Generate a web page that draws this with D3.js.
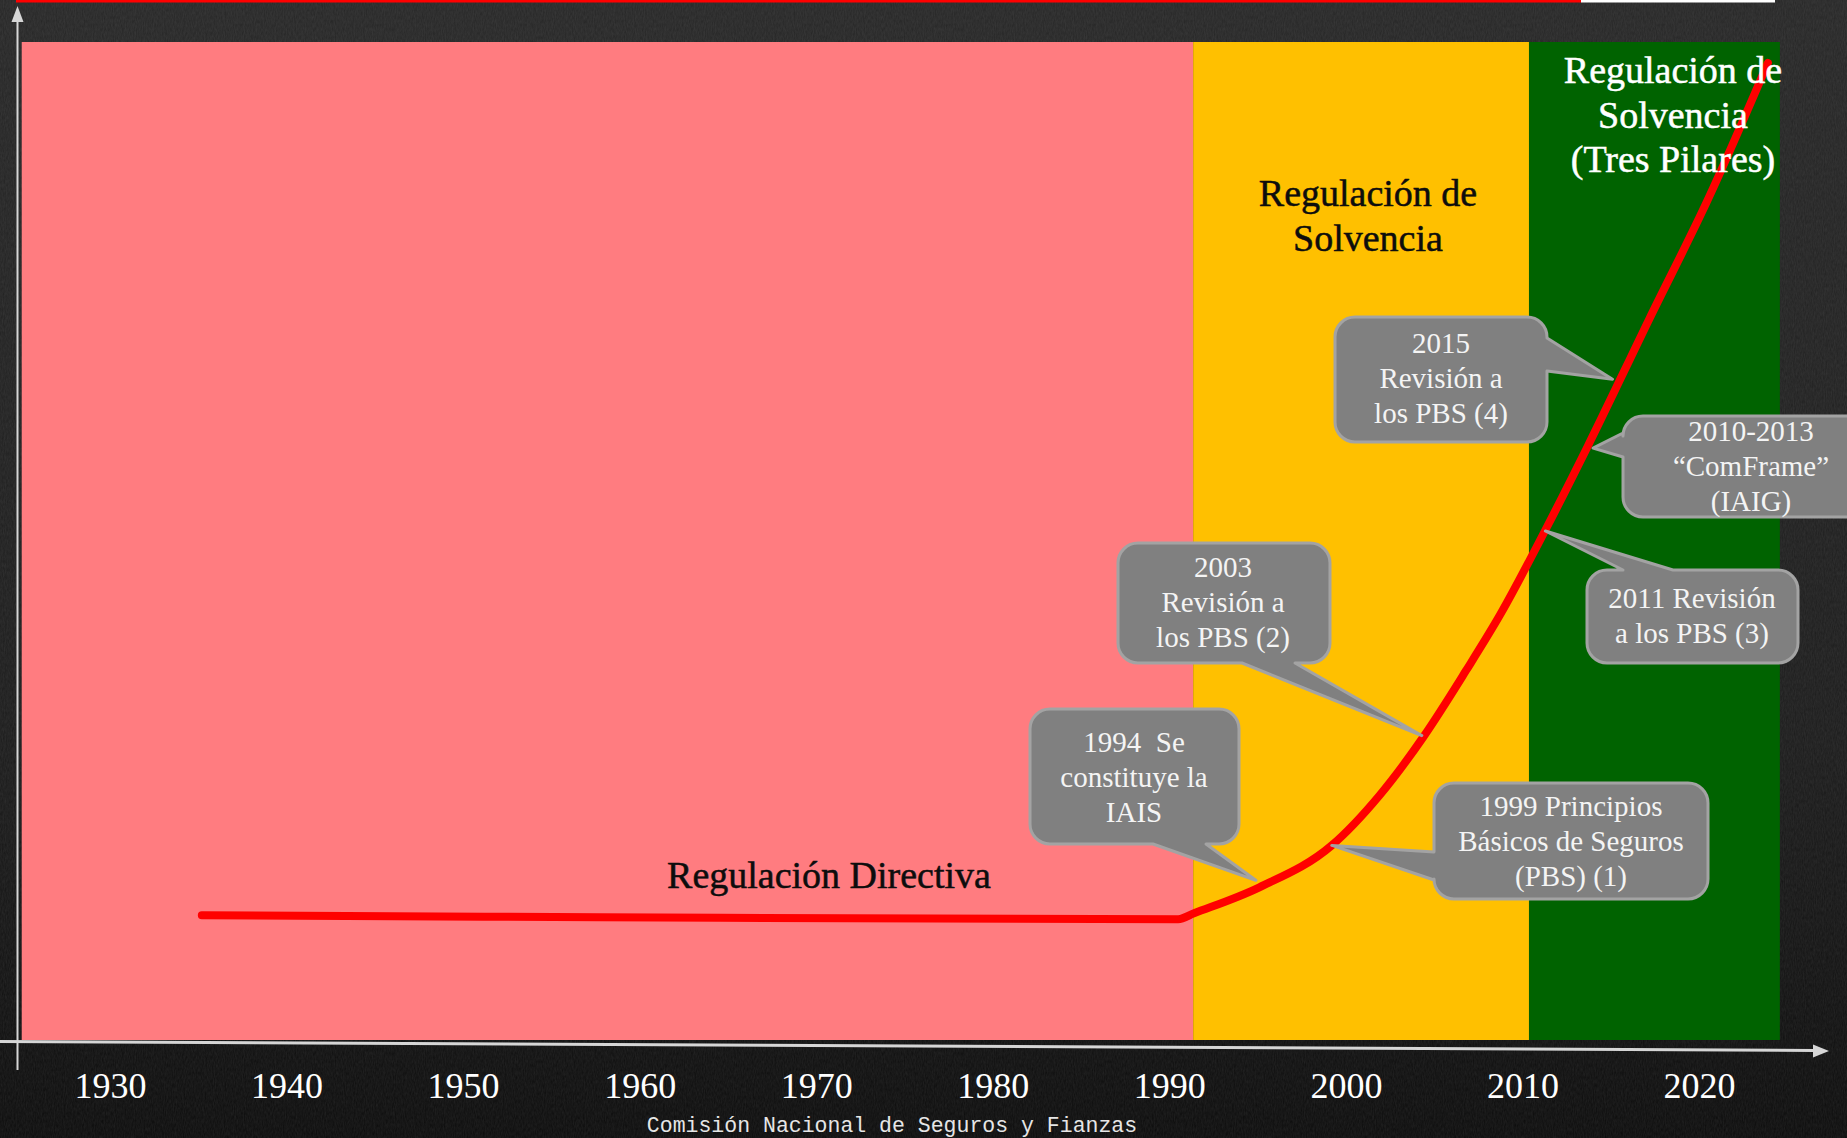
<!DOCTYPE html>
<html>
<head>
<meta charset="utf-8">
<script src="https://cdn.jsdelivr.net/npm/d3@7"></script>
<style>
  html, body { margin: 0; padding: 0; background: #141414; overflow: hidden; }
  svg { display: block; }
</style>
</head>
<body>
<svg id="chart" width="1847" height="1138"></svg>
<script>
// Regulatory eras (years)
const eraNames = ["directiva", "solvencia", "tresPilares"];
const eraStart = [1925.0, 1991.35, 2010.37];
const eraEnd = [1991.35, 2010.37, 2024.58];
const eraLabels = [
  ["Regulación Directiva"],
  ["Regulación de", "Solvencia"],
  ["Regulación de", "Solvencia", "(Tres Pilares)"],
];

// Regulatory intensity curve (year, level 0-100)
const curveYears = [1935.2, 1957.7, 1990.5, 1991.4, 1995.1, 1999.2, 2001.9, 2004.4,
  2006.8, 2008.7, 2011.3, 2013.7, 2017.2, 2020.5, 2023.9];
const curveLevels = [12.5, 12.3, 12.1, 12.7, 15.3, 19.5, 24.5, 30.4,
  37.0, 42.5, 51.1, 59.5, 72.3, 84.2, 97.9];

// Milestones pointed at on the curve
const milestoneYears = [1994.9, 1999.2, 2004.3, 2011.3, 2014.0, 2015.1];
const milestoneLevels = [16.0, 19.5, 30.5, 51.0, 59.3, 66.2];
const milestoneText = [
  ["1994  Se", "constituye la", "IAIS"],
  ["1999 Principios", "Básicos de Seguros", "(PBS) (1)"],
  ["2003", "Revisión a", "los PBS (2)"],
  ["2011 Revisión", "a los PBS (3)"],
  ["2010-2013", "“ComFrame”", "(IAIG)"],
  ["2015", "Revisión a", "los PBS (4)"],
];

const tickYears = [1930, 1940, 1950, 1960, 1970, 1980, 1990, 2000, 2010, 2020];
const footer = "Comisión Nacional de Seguros y Fianzas";

// ---- layout / style ----
const colors = {
  directiva: "#ff7c80",
  solvencia: "#ffc000",
  tresPilares: "#006300",
  curve: "#ff0000",
  bubble: "#808080",
  bubbleStroke: "#a3a3a3",
  bubbleText: "#f4f4f4",
  axis: "#d6d6d6",
};
const eraLabelLayout = {
  directiva: { cx: 829, base: 888, color: "#0d0d0d" },
  solvencia: { cx: 1368, base: 206, color: "#0d0d0d" },
  tresPilares: { cx: 1673, base: 83, color: "#ffffff" },
};
// box [x0,y0,x1,y1], pointer side, pointer base along that side, text centre, first baseline
const bubbleLayout = [
  { box: [1030, 709, 1239, 844], side: "bottom", base: [1153, 1206], cx: 1134, base0: 752 },
  { box: [1434, 783, 1708, 899], side: "left", base: [852, 880], cx: 1571, base0: 816 },
  { box: [1118, 543, 1330, 663], side: "bottom", base: [1242, 1295], cx: 1223, base0: 577 },
  { box: [1587, 570, 1798, 663], side: "top", base: [1623, 1673], cx: 1692, base0: 608 },
  { box: [1623, 416, 1890, 517], side: "left", base: [433, 457], cx: 1751, base0: 441 },
  { box: [1335, 317, 1547, 442], side: "right", base: [338, 371], cx: 1441, base0: 353 },
];

const svg = d3.select("#chart");
const W = 1847, H = 1138;

const x = d3.scaleLinear().domain([1930, 2020]).range([110, 1699]);
const y = d3.scaleLinear().domain([0, 100]).range([1040, 42]);

// background
const defs = svg.append("defs");
const grad = defs.append("linearGradient").attr("id", "bg").attr("x1", 0).attr("y1", 0).attr("x2", 0).attr("y2", 1);
grad.append("stop").attr("offset", "0%").attr("stop-color", "#262626");
grad.append("stop").attr("offset", "65%").attr("stop-color", "#1b1b1b");
grad.append("stop").attr("offset", "100%").attr("stop-color", "#0b0b0b");
const noise = defs.append("filter").attr("id", "noise").attr("x", 0).attr("y", 0).attr("width", "100%").attr("height", "100%");
noise.append("feTurbulence").attr("type", "fractalNoise").attr("baseFrequency", "0.9 0.25")
  .attr("numOctaves", 2).attr("seed", 4);
noise.append("feColorMatrix").attr("type", "matrix")
  .attr("values", "0 0 0 0 1  0 0 0 0 1  0 0 0 0 1  0.09 0 0 0 0");

svg.append("rect").attr("width", W).attr("height", H).attr("fill", "url(#bg)");
svg.append("rect").attr("width", W).attr("height", H).attr("filter", "url(#noise)");

// title bar remnant at the top
svg.append("rect").attr("x", 16).attr("y", 0).attr("width", 1565).attr("height", 2.5).attr("fill", "#ff0000");
svg.append("rect").attr("x", 1581).attr("y", 0).attr("width", 194).attr("height", 2.5).attr("fill", "#ffffff");

// era bands
svg.append("g")
  .selectAll("rect")
  .data(eraNames)
  .join("rect")
  .attr("x", (d, i) => x(eraStart[i]))
  .attr("width", (d, i) => x(eraEnd[i]) - x(eraStart[i]))
  .attr("y", y(100))
  .attr("height", y(0) - y(100))
  .attr("fill", (d) => colors[d]);

// axes lines with arrows
svg.append("line").attr("x1", 17.5).attr("y1", 20).attr("x2", 17.5).attr("y2", 1070)
  .attr("stroke", colors.axis).attr("stroke-width", 2);
svg.append("path").attr("d", "M17.5,6 L11.5,22 L23.5,22 Z").attr("fill", colors.axis);
svg.append("line").attr("x1", 0).attr("y1", 1041.5).attr("x2", 1815).attr("y2", 1050.5)
  .attr("stroke", colors.axis).attr("stroke-width", 3);
svg.append("path").attr("d", "M1829,1051 L1813,1044.5 L1813,1057.5 Z").attr("fill", colors.axis);

// year labels
const xAxis = d3.axisBottom(x).tickValues(tickYears).tickFormat(d3.format("d")).tickSize(0);
const gx = svg.append("g").attr("transform", "translate(0,1097.5)").call(xAxis);
gx.select(".domain").remove();
gx.selectAll("text")
  .attr("y", 0)
  .attr("dy", 0)
  .attr("fill", "#ffffff")
  .attr("font-family", "Liberation Serif, serif")
  .attr("font-size", 36);

// regulation curve
const line = d3.line()
  .x((d, i) => x(curveYears[i]))
  .y((d, i) => y(curveLevels[i]))
  .curve(d3.curveMonotoneX);
svg.append("path")
  .datum(curveYears)
  .attr("d", line)
  .attr("fill", "none")
  .attr("stroke", colors.curve)
  .attr("stroke-width", 8)
  .attr("stroke-linecap", "round")
  .attr("stroke-linejoin", "round");

// era labels (on top of the curve)
eraNames.forEach((name, i) => {
  const l = eraLabelLayout[name];
  svg.append("text")
    .attr("x", l.cx)
    .attr("y", l.base)
    .attr("text-anchor", "middle")
    .attr("font-family", "Liberation Serif, serif")
    .attr("font-size", 38)
    .attr("fill", l.color)
    .attr("stroke", l.color)
    .attr("stroke-width", 0.5)
    .selectAll("tspan")
    .data(eraLabels[i])
    .join("tspan")
    .attr("x", l.cx)
    .attr("dy", (d, j) => (j === 0 ? 0 : 44.5))
    .text((d) => d);
});

// speech bubbles
function bubblePath(b, side, base, tip, r) {
  const [x0, y0, x1, y1] = b;
  const p = d3.path();
  p.moveTo(x0 + r, y0);
  if (side === "top") { p.lineTo(base[0], y0); p.lineTo(tip[0], tip[1]); p.lineTo(base[1], y0); }
  p.lineTo(x1 - r, y0);
  p.arcTo(x1, y0, x1, y0 + r, r);
  if (side === "right") { p.lineTo(x1, base[0]); p.lineTo(tip[0], tip[1]); p.lineTo(x1, base[1]); }
  p.lineTo(x1, y1 - r);
  p.arcTo(x1, y1, x1 - r, y1, r);
  if (side === "bottom") { p.lineTo(base[1], y1); p.lineTo(tip[0], tip[1]); p.lineTo(base[0], y1); }
  p.lineTo(x0 + r, y1);
  p.arcTo(x0, y1, x0, y1 - r, r);
  if (side === "left") { p.lineTo(x0, base[1]); p.lineTo(tip[0], tip[1]); p.lineTo(x0, base[0]); }
  p.lineTo(x0, y0 + r);
  p.arcTo(x0, y0, x0 + r, y0, r);
  p.closePath();
  return p.toString();
}

const bubbles = svg.append("g")
  .selectAll("g")
  .data(milestoneText)
  .join("g");

bubbles.append("path")
  .attr("d", (d, i) => {
    const l = bubbleLayout[i];
    const tip = [x(milestoneYears[i]), y(milestoneLevels[i])];
    return bubblePath(l.box, l.side, l.base, tip, 20);
  })
  .attr("fill", colors.bubble)
  .attr("stroke", colors.bubbleStroke)
  .attr("stroke-width", 3)
  .attr("stroke-linejoin", "round");

bubbles.append("text")
  .attr("text-anchor", "middle")
  .attr("font-family", "Liberation Serif, serif")
  .attr("font-size", 29)
  .attr("fill", colors.bubbleText)
  .style("white-space", "pre")
  .attr("y", (d, i) => bubbleLayout[i].base0)
  .each(function (d, i) {
    d3.select(this)
      .selectAll("tspan")
      .data(d)
      .join("tspan")
      .attr("x", bubbleLayout[i].cx)
      .attr("dy", (t, j) => (j === 0 ? 0 : 35))
      .text((t) => t);
  });

// footer
svg.append("text")
  .attr("x", 892)
  .attr("y", 1132)
  .attr("text-anchor", "middle")
  .attr("font-family", "Liberation Mono, monospace")
  .attr("font-size", 21.5)
  .attr("fill", "#e6e6e6")
  .text(footer);
</script>
</body>
</html>
